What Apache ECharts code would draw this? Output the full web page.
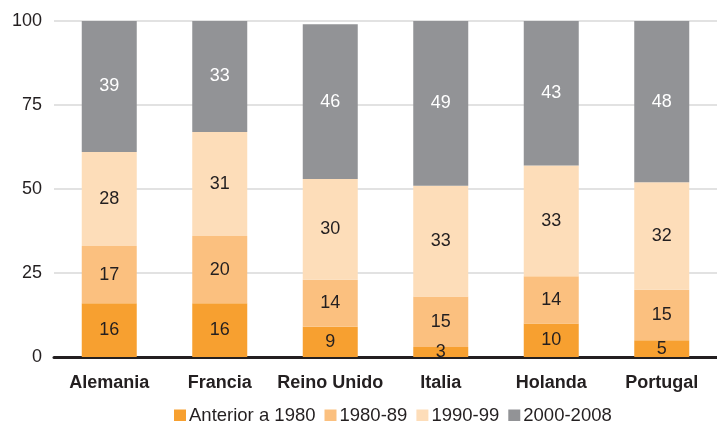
<!DOCTYPE html>
<html><head><meta charset="utf-8">
<script src="https://cdn.jsdelivr.net/npm/echarts@6/dist/echarts.min.js"></script>
<style>html,body{margin:0;padding:0;background:#fff}#c{width:717px;height:421px}</style>
</head><body><div id="c"></div>
<script>
const categories = ['Alemania','Francia','Reino Unido','Italia','Holanda','Portugal'];
const seriesNames = ['Anterior a 1980','1980-89','1990-99','2000-2008'];
const antes1980 = [16,16,9,3,10,5];
const d1980_89 = [17,20,14,15,14,15];
const d1990_99 = [28,31,30,33,33,32];
const d2000_08 = [39,33,46,49,43,48];
const yTicks = [0,25,50,75,100];

const colors = ['#F7A030','#FBC07F','#FDDDB9','#929396'];
const labelColors = ['#231f20','#231f20','#231f20','#ffffff'];
const values = [antes1980,d1980_89,d1990_99,d2000_08];
const font = '"Liberation Sans", Arial, sans-serif';

const chart = echarts.init(document.getElementById('c'));
chart.setOption({
  animation:false,
  textStyle:{fontFamily:font},
  grid:{left:54,top:21,width:668,height:336,containLabel:false},
  legend:{
    left:169, top:401,
    itemWidth:12,itemHeight:12,itemGap:9,
    icon:'rect',
    textStyle:{fontSize:18.5,color:'#231f20',fontFamily:font,padding:[0,0,0,-2]},
    data:seriesNames
  },
  xAxis:{
    type:'category',data:categories,
    axisLine:{lineStyle:{color:'#231f20',width:3}},
    axisTick:{show:false},
    axisLabel:{interval:0,fontSize:18,fontWeight:'bold',color:'#231f20',margin:17,fontFamily:font}
  },
  yAxis:{
    type:'value',min:0,max:100,interval:25,
    axisLine:{show:false},axisTick:{show:false},
    splitLine:{lineStyle:{color:'#d9d9d9',width:1.5}},
    axisLabel:{fontSize:18,color:'#231f20',margin:12,fontFamily:font,
      formatter:v=>yTicks.includes(v)?String(v):''}
  },
  series:values.map((d,i)=>({
    name:seriesNames[i],type:'bar',stack:'t',data:d,barWidth:55,
    itemStyle:{color:colors[i]},
    label:{show:true,position:'inside',fontSize:18,color:labelColors[i],fontFamily:font}
  }))
});
</script></body></html>
